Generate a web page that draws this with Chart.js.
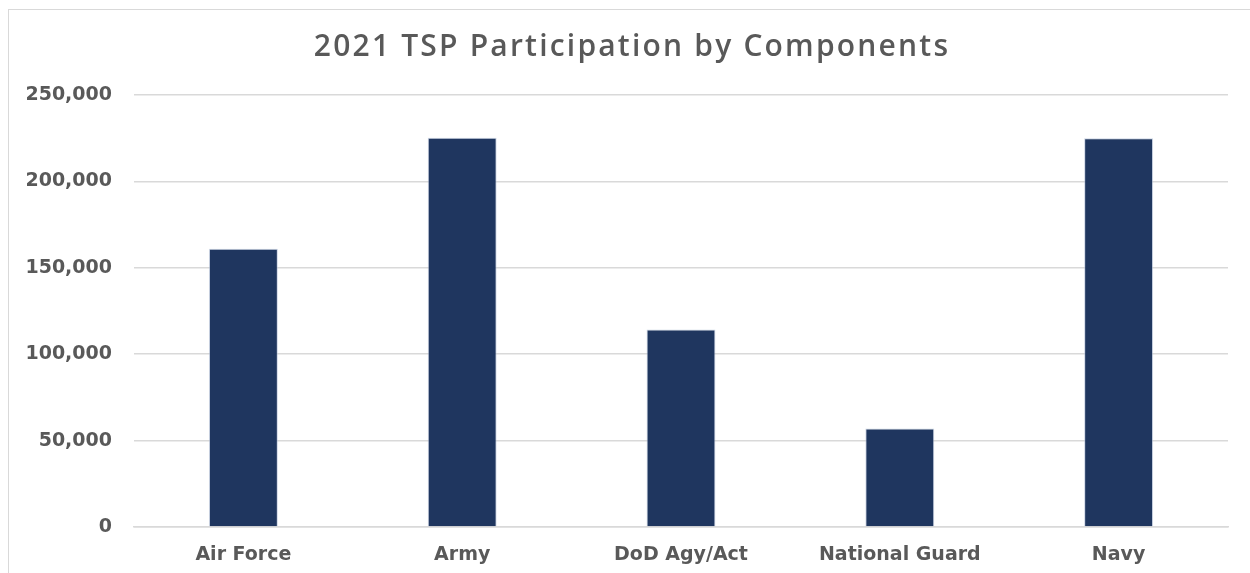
<!DOCTYPE html>
<html>
<head>
<meta charset="utf-8">
<script src="https://cdn.jsdelivr.net/npm/chart.js@4"></script>
<style>
  html, body { margin: 0; padding: 0; background: #fff; overflow: hidden; }
  #frame { position: absolute; left: 8px; top: 9px; width: 1300px; height: 600px; border: 1.5px solid #d9d9d9; }
  #wrap { position: absolute; left: 0; top: 0; width: 1250px; height: 573px; }
</style>
</head>
<body>
<div id="frame"></div>
<div id="wrap"><canvas id="tspChart"></canvas></div>
<script>
// categories and values
const components = ["Air Force", "Army", "DoD Agy/Act", "National Guard", "Navy"];
const participants = [161000, 225300, 114300, 57000, 225000];
const yTicks = [0, 50000, 100000, 150000, 200000, 250000];

// the title in the original is spaced out a bit and sits a little right of centre
const spacedTitle = {
  id: "spacedTitle",
  beforeDraw(chart) {
    const tb = chart.titleBlock;
    if (!tb || tb._spaced) return;
    const orig = tb.draw.bind(tb);
    tb.draw = function () {
      chart.ctx.save();
      chart.ctx.letterSpacing = "2.2px";
      chart.ctx.translate(18, 0);
      orig();
      chart.ctx.restore();
    };
    tb._spaced = true;
  },
};

const ctx = document.getElementById("tspChart");

new Chart(ctx, {
  type: "bar",
  data: {
    labels: components,
    datasets: [
      {
        label: "Participants",
        data: participants,
        backgroundColor: "#1f365f",
        borderColor: "rgba(170,185,210,0.6)",
        borderWidth: 1,
        barPercentage: 0.63,
        categoryPercentage: 0.5,
      },
    ],
  },
  plugins: [spacedTitle],
  options: {
    responsive: true,
    maintainAspectRatio: false,
    animation: false,
    layout: { padding: { left: 0, right: 22, top: 0, bottom: 0 } },
    plugins: {
      legend: { display: false },
      tooltip: { enabled: false },
      title: {
        display: true,
        text: "2021 TSP Participation by Components",
        color: "#595959",
        font: { family: "Open Sans", size: 30, weight: "600" },
        padding: { top: 29, bottom: 30 },
      },
    },
    scales: {
      x: {
        grid: { display: false },
        border: { display: true, color: "#d9d9d9", width: 1.5 },
        ticks: {
          color: "#595959",
          font: { family: "DejaVu Sans", size: 19, weight: "bold" },
          padding: 9,
        },
        afterFit: (scale) => { scale.height = 46; },
      },
      y: {
        min: 0,
        max: 250000,
        border: { display: false },
        grid: { color: "#d9d9d9", lineWidth: 1.5, drawTicks: false },
        afterBuildTicks: (scale) => { scale.ticks = yTicks.map((v) => ({ value: v })); },
        afterFit: (scale) => { scale.width = 134; },
        ticks: {
          color: "#595959",
          font: { family: "DejaVu Sans", size: 19, weight: "bold" },
          padding: 22,
          callback: (v) => v.toLocaleString("en-US"),
        },
      },
    },
  },
});
</script>
</body>
</html>
